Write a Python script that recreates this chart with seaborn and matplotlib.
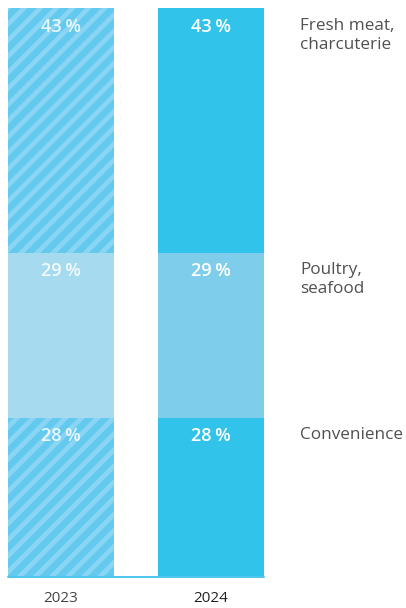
import pandas as pd
import matplotlib.pyplot as plt
import seaborn as sns

# data (share of sales, %)
years = ["2023", "2024"]
categories = ["Convenience", "Poultry,\nseafood", "Fresh meat,\ncharcuterie"]  # bottom -> top
values_2023 = [28, 29, 43]
values_2024 = [28, 29, 43]

rows = []
for year, vals in zip(years, [values_2023, values_2024]):
    cum = 0
    for cat, v in zip(categories, vals):
        cum += v
        rows.append({"year": year, "category": cat, "value": v, "cum": cum})
df = pd.DataFrame(rows)

# colours per (year, category)
colours = {
    ("2023", "Convenience"): "#63c9ee",
    ("2023", "Poultry,\nseafood"): "#a6daef",
    ("2023", "Fresh meat,\ncharcuterie"): "#63c9ee",
    ("2024", "Convenience"): "#32c3eb",
    ("2024", "Poultry,\nseafood"): "#7ecdea",
    ("2024", "Fresh meat,\ncharcuterie"): "#32c3eb",
}
hatched = {("2023", "Convenience"), ("2023", "Fresh meat,\ncharcuterie")}

sns.set_style("white")
plt.rcParams["font.family"] = ["Open Sans", "DejaVu Sans"]
plt.rcParams["hatch.linewidth"] = 2.4

dpi = 145
fig = plt.figure(figsize=(406 / dpi, 608 / dpi), dpi=dpi)
ax = fig.add_axes([8 / 406, 31 / 608, 256 / 406, 569 / 608])

bar_w = 106 / 150
# draw cumulative bars from the top down so lower segments overlap
for cat in reversed(categories):
    sub = df[df["category"] == cat]
    n_before = len(ax.patches)
    sns.barplot(data=sub, x="year", y="cum", order=years, width=bar_w,
                color="#32c3eb", errorbar=None, ax=ax, linewidth=0)
    for patch, year in zip(ax.patches[n_before:], years):
        patch.set_facecolor(colours[(year, cat)])
        patch.set_linewidth(0)
        if (year, cat) in hatched:
            patch.set_hatch("///")
            patch.set_edgecolor("#8ad5f3")

# percentage labels at the top of each segment
for _, r in df.iterrows():
    xi = years.index(r["year"])
    alpha = 0.85 if r["year"] == "2023" else 1.0
    ax.text(xi, r["cum"] - 3.3, f"{r['value']}\u2009%", ha="center", va="center",
            color="white", alpha=alpha, fontsize=9, fontweight="semibold")

# category labels to the right
for _, r in df[df["year"] == "2024"].iterrows():
    ax.text(1.593, r["cum"] - 1.7, r["category"], ha="left", va="top",
            color="#505050", fontsize=8.5, linespacing=1.25, clip_on=False)

ax.set_xlim(-0.5 * bar_w, 1 + 0.5 * bar_w)
ax.set_ylim(0, 100)
ax.axhline(0, color="#4fc4ec", lw=1.0, clip_on=False)
sns.despine(ax=ax, left=True, bottom=True)
ax.set_yticks([])
ax.set_xlabel("")
ax.set_ylabel("")
ax.tick_params(axis="x", length=0, pad=7, labelsize=7.5)
for lab in ax.get_xticklabels():
    lab.set_color("#222222" if lab.get_text() == "2024" else "#444444")

fig.savefig("out.png", dpi=dpi)
